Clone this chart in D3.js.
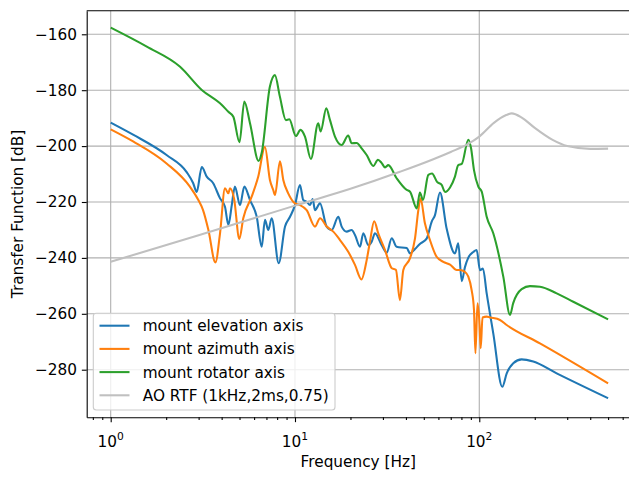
<!DOCTYPE html>
<html>
<head>
<meta charset="utf-8">
<script src="https://d3js.org/d3.v7.min.js"></script>
<style>
  body { margin: 0; background: #fff; }
  svg { font-family: "DejaVu Sans", sans-serif; }
</style>
</head>
<body>
<svg id="chart" width="629" height="477"></svg>
<script>
// values (Hz, dB)
var freqElev = [1, 1.33, 2.01, 2.59, 2.8, 2.93, 3.12, 3.32, 3.6, 3.92, 4.17, 4.35, 4.54, 4.72, 5.03, 5.31, 5.7, 6.2, 6.6, 6.87, 7.17, 7.47, 8.16, 8.83, 9.4, 10, 10.64, 11.09, 11.57, 12.06, 12.47, 12.84, 13.67, 14.86, 15.82, 17.18, 17.92, 19.08, 20.3, 21.16, 22.53, 23.48, 24.98, 26.07, 27.17, 29.5, 31.45, 33.5, 35.6, 40.4, 42.1, 44.8, 47.6, 51.8, 55.2, 57.5, 61.2, 66.6, 73.8, 76.9, 80.3, 83.6, 87.2, 92.8, 96.8, 100.9, 104.7, 109.7, 119.1, 133.3, 140.9, 152.9, 169.8, 196.3, 263, 500];
var dbElev = [-191.6, -196.0, -203.2, -209.4, -213.2, -216.4, -207.5, -210.9, -213.3, -218.7, -221.7, -228.2, -221.1, -214.5, -221.1, -214.5, -219.3, -225.3, -236.0, -226.4, -230.0, -225.8, -241.9, -228.8, -225.3, -221.1, -213.9, -219.3, -219.9, -221.1, -218.9, -222.9, -220.5, -228.8, -230.0, -225.3, -228.8, -230.6, -230.0, -231.8, -236.0, -231.2, -235.4, -234.2, -231.2, -235.4, -238.1, -233.0, -236.0, -236.5, -238.4, -236.8, -235.0, -233.1, -227.0, -224.7, -216.6, -229.7, -238.4, -234.8, -248.3, -243.3, -239.9, -237.9, -237.2, -244.4, -243.8, -252.7, -267.0, -286.1, -281.3, -277.7, -276.3, -277.1, -281.3, -290.2];

var freqAzim = [1, 1.33, 2.01, 2.69, 2.99, 3.17, 3.39, 3.7, 3.92, 4.17, 4.35, 4.44, 4.67, 4.99, 5.24, 5.82, 6.32, 6.87, 7.31, 7.62, 7.79, 8.29, 8.64, 9.19, 10, 10.64, 11.57, 12.84, 13.67, 14.86, 16.14, 17.55, 19.45, 21.16, 22.95, 24.49, 25.5, 26.9, 28.3, 30.8, 33.5, 35.3, 37.1, 38.7, 42.1, 44.8, 46.7, 48, 50.7, 54, 58.7, 63.8, 69.4, 75.4, 78.5, 83.6, 87.2, 90.9, 93.6, 95.3, 97.8, 100, 101.8, 104.1, 109.7, 114.3, 129.5, 140.8, 213.4, 500];
var dbAzim = [-194.0, -198.4, -206.2, -214.5, -219.3, -222.9, -230.0, -241.6, -231.2, -215.1, -216.9, -215.1, -218.7, -233.2, -225.8, -218.1, -210.9, -200.3, -212.1, -215.7, -217.5, -205.4, -212.1, -216.9, -220.5, -221.1, -222.9, -228.8, -225.8, -228.8, -230.6, -233.6, -237.8, -242.5, -247.7, -240.8, -234.3, -226.9, -231.2, -237.2, -243.7, -244.3, -255.1, -244.3, -240.1, -233.0, -222.9, -218.7, -227.6, -233.6, -239.6, -241.4, -242.4, -244.3, -244.3, -245.0, -246.7, -251.5, -258.6, -274.1, -256.2, -262.2, -272.3, -261.3, -261.0, -261.3, -262.2, -264.0, -270.6, -284.9];

var freqRot = [1, 1.57, 2.38, 3.12, 3.92, 4.35, 4.63, 5.0, 5.31, 5.7, 6.35, 6.59, 7.31, 7.78, 8.28, 8.93, 9.31, 10.12, 10.71, 11.33, 12.2, 13.37, 13.78, 14.78, 15.49, 16.48, 17.92, 19.45, 20.31, 21.62, 23.0, 24.49, 26.6, 28.2, 29.5, 30.8, 32.1, 35.6, 40.4, 42.1, 45.8, 47.6, 49.5, 52.9, 55.4, 59.0, 62.5, 65.2, 69.4, 73.8, 76.9, 80.3, 87.2, 90.2, 93.6, 98.8, 103.1, 109.7, 119.1, 135.0, 146.8, 152.8, 169.8, 188.4, 213.4, 263, 323.6, 500];
var dbRot = [-157.6, -164.4, -171.6, -179.9, -184.7, -187.7, -189.5, -198.6, -184.1, -191.8, -205.3, -202.6, -178.7, -174.6, -182.3, -190.7, -190.4, -196.4, -194.2, -196.6, -204.6, -191.8, -194.8, -186.5, -190.7, -196.6, -199.6, -196.2, -199.0, -198.9, -200.8, -203.2, -207.1, -204.9, -206.0, -207.6, -206.8, -211.5, -215.7, -216.3, -222.3, -216.6, -219.3, -210.3, -209.8, -212.8, -213.9, -216.4, -214.8, -210.9, -206.8, -206.4, -197.7, -200.7, -208.6, -214.5, -216.3, -225.3, -231.2, -246.7, -260.4, -256.2, -251.2, -250.1, -250.3, -252.7, -255.7, -262.0];

var freqRtf = [1, 3, 10, 20, 37.1, 56.3, 70, 85.5, 100, 120, 140, 150, 170, 200, 250, 300, 400, 500];
var dbRtf = [-241.4, -231.9, -221.3, -215.3, -209.2, -204.7, -202.1, -199.5, -196.6, -191.7, -188.9, -188.3, -189.8, -193.5, -197.8, -200.0, -201.0, -200.9];

var seriesNames = ["mount elevation axis", "mount azimuth axis", "mount rotator axis", "AO RTF (1kHz,2ms,0.75)"];
var seriesColors = ["#1f77b4", "#ff7f0e", "#2ca02c", "#c0c0c0"];

var yTicks = [-280, -260, -240, -220, -200, -180, -160];
var xMajor = [1, 10, 100];
var xMinor = [0.8, 0.9, 2, 3, 4, 5, 6, 7, 8, 9, 20, 30, 40, 50, 60, 70, 80, 90, 200, 300, 400, 500, 600];

var box = {left: 86.7, top: 10.7, right: 633.9, bottom: 417.3};
var fs = 15.3;

renderChart();

function renderChart() {
	var svg = d3.select("#chart");

	var x = d3.scaleLog()
		.domain([Math.pow(10, -0.1302), Math.pow(10, 2.839)])
		.range([box.left, box.right]);
	var y = d3.scaleLinear()
		.domain([-297.03, -151.56])
		.range([box.bottom, box.top]);

	svg.append("clipPath").attr("id", "plotclip")
		.append("rect")
		.attr("x", box.left).attr("y", box.top)
		.attr("width", box.right - box.left).attr("height", box.bottom - box.top);

	// grid
	var grid = svg.append("g").attr("class", "grid");
	grid.selectAll("line.gx")
		.data(xMajor)
		.enter()
		.append("line")
		.attr("x1", function(d) { return x(d); })
		.attr("x2", function(d) { return x(d); })
		.attr("y1", box.top)
		.attr("y2", box.bottom)
		.style("stroke", "#b0b0b0")
		.style("stroke-width", 1.1);
	grid.selectAll("line.gy")
		.data(yTicks)
		.enter()
		.append("line")
		.attr("x1", box.left)
		.attr("x2", box.right)
		.attr("y1", function(d) { return y(d); })
		.attr("y2", function(d) { return y(d); })
		.style("stroke", "#b0b0b0")
		.style("stroke-width", 1.1);

	// curves, in legend order (RTF last, on top)
	var allSeries = [
		{f: freqElev, v: dbElev},
		{f: freqAzim, v: dbAzim},
		{f: freqRot, v: dbRot},
		{f: freqRtf, v: dbRtf}
	];
	var line = d3.line()
		.x(function(d) { return x(d[0]); })
		.y(function(d) { return y(d[1]); })
		.curve(d3.curveMonotoneX);

	var lines = svg.append("g").attr("clip-path", "url(#plotclip)");
	allSeries.forEach(function(s, i) {
		var pts = s.f.map(function(f, k) { return [f, s.v[k]]; });
		lines.append("path")
			.datum(pts)
			.attr("d", line)
			.style("fill", "none")
			.style("stroke", seriesColors[i])
			.style("stroke-width", 2.08)
			.style("stroke-linejoin", "round")
			.style("stroke-linecap", "butt");
	});

	// axes
	svg.append("g")
		.attr("transform", "translate(0," + box.bottom + ")")
		.call(d3.axisBottom(x).tickValues(xMajor).tickSize(4.86).tickSizeOuter(0).tickFormat(""));
	svg.append("g")
		.attr("transform", "translate(0," + box.bottom + ")")
		.call(d3.axisBottom(x).tickValues(xMinor).tickSize(2.78).tickSizeOuter(0).tickFormat(""))
		.select(".domain").remove();

	var yAxis = svg.append("g")
		.attr("transform", "translate(" + box.left + ",0)")
		.call(d3.axisLeft(y).tickValues(yTicks).tickSize(4.86).tickSizeOuter(0).tickPadding(4.86).tickFormat(d3.format("d")));

	svg.selectAll(".tick line").style("stroke", "#000").style("stroke-width", 1.1);
	svg.selectAll(".domain").style("stroke", "#000").style("stroke-width", 1.1);
	yAxis.selectAll("text")
		.style("font-size", fs + "px")
		.style("font-family", "DejaVu Sans")
		.attr("fill", "#000");

	// power-of-ten labels
	var lab = svg.append("g");
	xMajor.forEach(function(d) {
		var t = lab.append("text")
			.attr("x", x(d))
			.attr("y", 446.5)
			.attr("text-anchor", "middle")
			.style("font-size", fs + "px");
		t.append("tspan").text("10");
		t.append("tspan")
			.attr("dy", -7)
			.style("font-size", "10.7px")
			.text(Math.round(Math.log10(d)));
	});

	// top spine
	svg.append("line")
		.attr("x1", box.left).attr("x2", box.right)
		.attr("y1", box.top).attr("y2", box.top)
		.style("stroke", "#000").style("stroke-width", 1.1);

	svg.append("text")
		.attr("x", (box.left + box.right) / 2 - 2)
		.attr("y", 467)
		.attr("text-anchor", "middle")
		.style("font-size", fs + "px")
		.text("Frequency [Hz]");

	svg.append("text")
		.attr("transform", "translate(23," + ((box.top + box.bottom) / 2) + ") rotate(-90)")
		.attr("text-anchor", "middle")
		.style("font-size", fs + "px")
		.text("Transfer Function [dB]");

	// legend
	var leg = svg.append("g");
	leg.append("rect")
		.attr("x", 93.3).attr("y", 313.3)
		.attr("width", 241.7).attr("height", 96.7)
		.attr("rx", 3)
		.style("fill", "#fff").style("fill-opacity", 0.8)
		.style("stroke", "#cccccc").style("stroke-width", 1.1);
	seriesNames.forEach(function(name, i) {
		var ry = 325.7 + i * 23.2;
		leg.append("line")
			.attr("x1", 99.5).attr("x2", 129.5)
			.attr("y1", ry).attr("y2", ry)
			.style("stroke", seriesColors[i])
			.style("stroke-width", 2.08);
		leg.append("text")
			.attr("x", 142.7)
			.attr("y", ry)
			.attr("dy", "0.36em")
			.style("font-size", fs + "px")
			.text(name);
	});
}
</script>
</body>
</html>
